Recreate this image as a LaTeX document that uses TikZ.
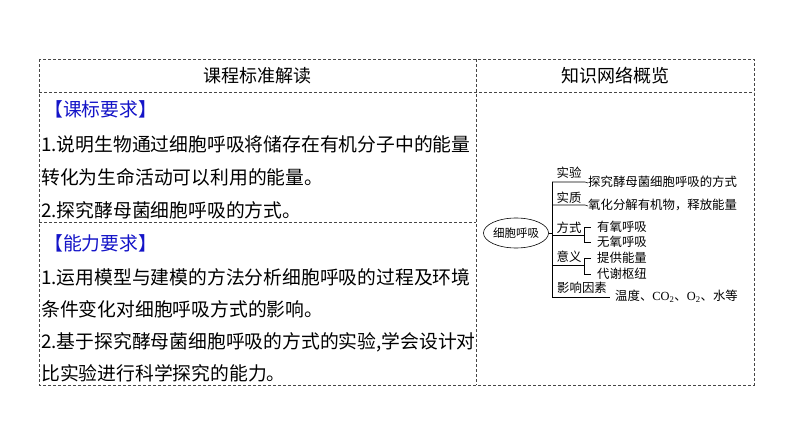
\documentclass[tikz,border=0pt]{standalone}
\usepackage{fontspec}
\setmainfont{Noto Sans CJK SC}
\newfontfamily\lserif{Liberation Serif}
\usetikzlibrary{shapes.geometric}
\definecolor{reqblue}{RGB}{20,20,200}
\definecolor{dashgray}{RGB}{70,70,70}
\begin{document}
\begin{tikzpicture}[x=1pt,y=-1pt,
  grid/.style={draw=dashgray, line width=0.9pt, dash pattern=on 3pt off 2pt},
  head/.style={font=\fontsize{18}{20}\selectfont, inner sep=0pt, anchor=base},
  body/.style={font=\fontsize{18.8}{21}\selectfont, anchor=base west, inner sep=0pt},
  req/.style={body, text=reqblue},
  mm/.style={font=\fontsize{12.4}{14}\selectfont, inner sep=0pt, anchor=base west},
  mmc/.style={mm, anchor=base},
  br/.style={line width=0.6pt}]
\useasboundingbox (0,0) rectangle (794,446);
\fill[white] (0,0) rectangle (794,446);
% table
\draw[grid] (39,59) rectangle (754,385);
\draw[grid] (39,92) -- (754,92);
\draw[grid] (476,59) -- (476,385);
\draw[grid] (39,222) -- (476,222);
% headers
\node[head] (h1) at (257.5,83) {课程标准解读};
\node[head] (h2) at (615,83) {知识网络概览};
% left column
\node[req] (r1) at (44,117) {【课标要求】};
\node[body] (l1) at (41,152) {1.说明生物通过细胞呼吸将储存在有机分子中的能量};
\node[body] (l2) at (41,185) {转化为生命活动可以利用的能量。};
\node[body] (l3) at (41,218) {2.探究酵母菌细胞呼吸的方式。};
\node[req] (r2) at (44,250) {【能力要求】};
\node[body] (l4) at (41,284) {1.运用模型与建模的方法分析细胞呼吸的过程及环境};
\node[body] (l5) at (41,316) {条件变化对细胞呼吸方式的影响。};
\node[body] (l6) at (41,348) {2.基于探究酵母菌细胞呼吸的方式的实验,学会设计对};
\node[body] (l7) at (41,380) {比实验进行科学探究的能力。};
% mind map
\node[ellipse, draw, line width=0.6pt, minimum width=58pt, minimum height=30pt, inner sep=0pt,
  font=\fontsize{11.5}{13}\selectfont] (root) at (516,233) {细胞呼吸};
\coordinate (sp) at (552,233);
\coordinate (top) at (552,182);
\coordinate (bot) at (552,297);
\draw[br] (root.east) -- (sp);
\draw[br] (top) -- (bot);
% branch 1
\node[mmc] (b1) at (569,178) {实验};
\node[mm] (t1) at (588,186.7) {探究酵母菌细胞呼吸的方式};
\draw[br] (top) -- (585,182) -- (t1.west |- 0,183);
% branch 2
\node[mmc] (b2) at (569,203) {实质};
\node[mm] (t2) at (588,209.7) {氧化分解有机物，释放能量};
\coordinate (j2) at (552,205);
\draw[br] (j2) -- (585,205) -- (t2.west |- 0,206);
% branch 3
\node[mmc] (b3) at (569,232.7) {方式};
\coordinate (j3) at (552,235);
\coordinate (k3) at (584,235);
\node[mm] (t3a) at (597,231.7) {有氧呼吸};
\node[mm] (t3b) at (597,246.7) {无氧呼吸};
\draw[br] (j3) -- (k3);
\draw[br] (591,227) -- (584,227) -- (584,242) -- (591,242);
% branch 4
\node[mmc] (b4) at (569,261.7) {意义};
\coordinate (j4) at (552,265);
\coordinate (k4) at (584,265);
\node[mm] (t4a) at (597,262.7) {提供能量};
\node[mm] (t4b) at (597,278.7) {代谢枢纽};
\draw[br] (j4) -- (k4);
\draw[br] (591,258) -- (584,258) -- (584,274) -- (591,274);
% branch 5
\node[mmc] (b5) at (582,292.7) {影响因素};
\node[mm] (t5) at (615,300.7) {温度、{\lserif CO\textsubscript{2}}、{\lserif O\textsubscript{2}}、水等};
\draw[br] (bot) -- (610,297);
\end{tikzpicture}
\end{document}
